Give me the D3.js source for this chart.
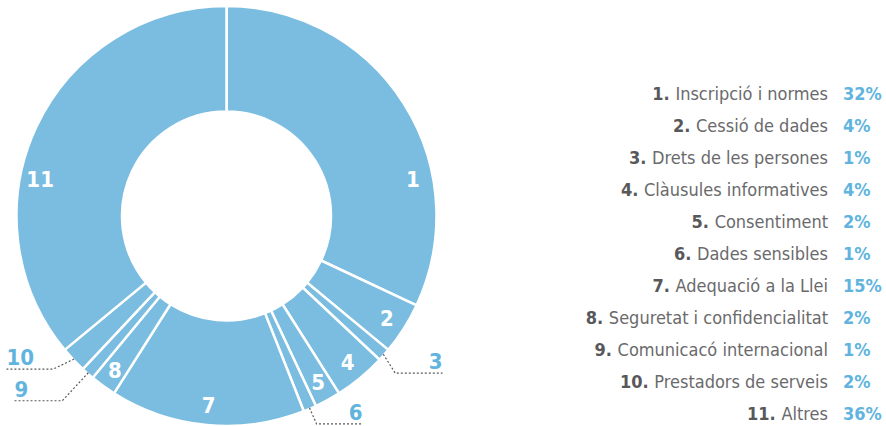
<!DOCTYPE html>
<html>
<head>
<meta charset="utf-8">
<script src="https://cdn.jsdelivr.net/npm/d3@7"></script>
<style>
  body { margin: 0; background: #fff; }
  svg { display: block; }
</style>
</head>
<body>
<svg id="chart" width="886" height="426"></svg>
<script>
// data
var categories = ["Inscripció i normes", "Cessió de dades", "Drets de les persones",
  "Clàusules informatives", "Consentiment", "Dades sensibles", "Adequació a la Llei",
  "Seguretat i confidencialitat", "Comunicacó internacional", "Prestadors de serveis", "Altres"];
var values = [32, 4, 1, 4, 2, 1, 15, 2, 1, 2, 36];

var W = 886, H = 426;
var cx = 226.5, cy = 216, rOut = 210, rIn = 104.5;
var fill = "#7abde0", blue = "#62b4de", grey = "#58585a";
var numFont = "'DejaVu Sans Condensed', 'DejaVu Sans', sans-serif";
var txtFont = "'Liberation Sans Narrow', 'DejaVu Sans Condensed', sans-serif";

var svg = d3.select("#chart");
var g = svg.append("g").attr("transform", "translate(" + cx + "," + cy + ")");

var pie = d3.pie().sort(null).value(function(d) { return d; });
var arcs = pie(values);
var arc = d3.arc().innerRadius(rIn).outerRadius(rOut);

g.selectAll(".slice")
  .data(arcs)
  .enter().append("path")
  .attr("class", "slice")
  .attr("d", arc)
  .attr("fill", fill)
  .attr("stroke", "#fff")
  .attr("stroke-width", 2.5);

// outside labels with dotted leaders (layout only)
var lead = { 2: { dx: 12, dy: 19, end: 216, anchor: "end" },
             5: { dx: 7, dy: 16, end: 136, anchor: "end" },
             8: { dx: -26, dy: 28, end: -212, anchor: "start" },
             9: { dx: -21, dy: 10, end: -220, anchor: "start" } };

// inside labels, big slices sit at a fixed height
function polar(a, r) { return [Math.sin(a) * r, -Math.cos(a) * r]; }
var rLab = 190;
var inside = arcs.filter(function(d) { return !lead[d.index]; });
g.selectAll(".inlab")
  .data(inside)
  .enter().append("text")
  .attr("class", "inlab")
  .attr("transform", function(d) {
    var a = (d.startAngle + d.endAngle) / 2;
    var p = polar(a, rLab);
    if (d.endAngle - d.startAngle > Math.PI / 2) {
      var y = -37, x = Math.sqrt(rLab * rLab - y * y) * (a < Math.PI ? 1 : -1);
      p = [x, y];
    }
    return "translate(" + p[0] + "," + p[1] + ")";
  })
  .attr("text-anchor", "middle")
  .attr("dy", "0.36em")
  .attr("fill", "#fff")
  .style("font-family", numFont)
  .style("font-weight", "bold")
  .style("font-size", "22px")
  .text(function(d) { return d.index + 1; });

var outside = arcs.filter(function(d) { return lead[d.index]; });
outside.forEach(function(d) {
  var L = lead[d.index];
  var a = (d.startAngle + d.endAngle) / 2;
  var p = polar(a, rOut - 1);
  var e = [p[0] + L.dx, p[1] + L.dy];
  g.append("path")
    .attr("d", "M" + p + "L" + e + "L" + [L.end, e[1]])
    .attr("fill", "none")
    .attr("stroke", grey)
    .attr("stroke-width", 1.2)
    .attr("stroke-dasharray", "2,2");
  g.append("text")
    .attr("x", L.end)
    .attr("y", e[1] - 4)
    .attr("text-anchor", L.anchor)
    .attr("fill", blue)
    .style("font-family", numFont)
    .style("font-weight", "bold")
    .style("font-size", "22px")
    .text(d.index + 1);
});

// legend
var y = d3.scalePoint().domain(d3.range(categories.length)).range([100, 420]);
var leg = svg.append("g").selectAll("g")
  .data(categories)
  .enter().append("g")
  .attr("transform", function(d, i) { return "translate(0," + y(i) + ")"; });

var lt = leg.append("text")
  .attr("x", 828)
  .attr("text-anchor", "end")
  .style("font-size", "18px");
lt.append("tspan")
  .style("font-family", numFont)
  .style("font-weight", "bold")
  .attr("fill", grey)
  .text(function(d, i) { return (i + 1) + ". "; });
lt.append("tspan")
  .style("font-family", txtFont)
  .attr("fill", "#6a6a6c")
  .text(function(d) { return d; });

leg.append("text")
  .attr("x", 843)
  .attr("fill", blue)
  .style("font-family", numFont)
  .style("font-weight", "bold")
  .style("font-size", "18px")
  .text(function(d, i) { return values[i] + "%"; });
</script>
</body>
</html>
